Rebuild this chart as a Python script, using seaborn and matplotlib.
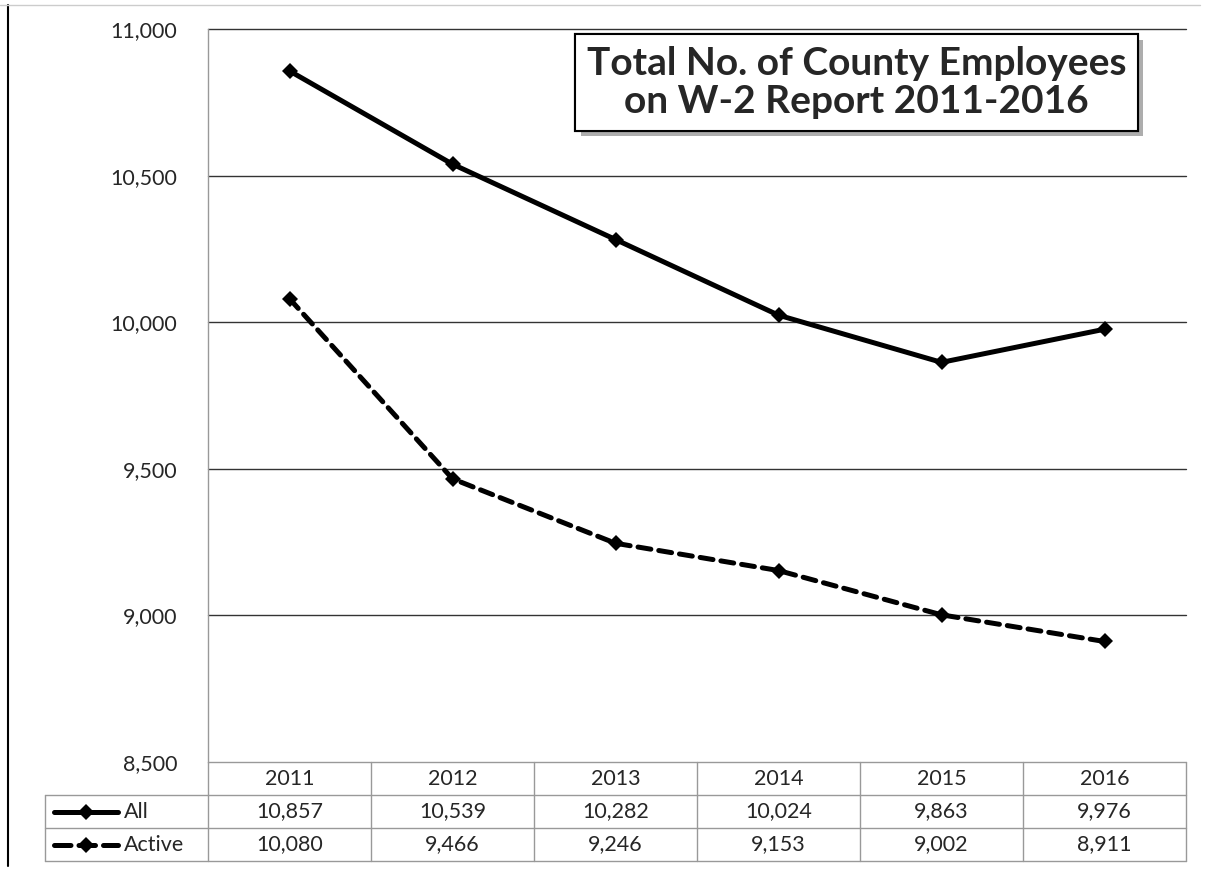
import pandas as pd
import numpy as np
import matplotlib
matplotlib.use('Agg')
import matplotlib.pyplot as plt
import matplotlib.patheffects as pe
from matplotlib.lines import Line2D
import seaborn as sns

# data
years = ['2011', '2012', '2013', '2014', '2015', '2016']
all_emp = [10857, 10539, 10282, 10024, 9863, 9976]
active_emp = [10080, 9466, 9246, 9153, 9002, 8911]
series_names = ['All', 'Active']
y_ticks = [8500, 9000, 9500, 10000, 10500, 11000]
title_txt = 'Total No. of County Employees\non W-2 Report 2011-2016'

df = pd.DataFrame({'year': years * 2,
                   'count': all_emp + active_emp,
                   'series': [series_names[0]] * len(years) + [series_names[1]] * len(years)})

sns.set_theme(style='white')
plt.rcParams['font.family'] = ['Lato', 'DejaVu Sans']

fig = plt.figure(figsize=(12.05, 8.72), dpi=100)
ax = fig.add_axes([208/1205, 1 - 762/872, 978/1205, 733/872])

lw = 3.6
sns.lineplot(data=df, x='year', y='count', style='series', color='black',
             markers={'All': 'D', 'Active': 'D'},
             dashes={'All': '', 'Active': (2.6, 1.6)},
             markersize=8, linewidth=lw, markeredgewidth=0,
             legend=False, ax=ax, sort=False)
for ln in ax.lines:
    ln.set_dash_capstyle('round')
    ln.set_solid_capstyle('round')

ax.set_xlim(-0.5, len(years) - 0.5)
ax.set_ylim(8500, 11000)
ax.set_yticks(y_ticks)
ax.set_yticklabels([f'{v:,}' for v in y_ticks], fontsize=15.5)
ax.tick_params(axis='y', length=0, pad=22)
ax.set_xticks([])
ax.set_xlabel('')
ax.set_ylabel('')
ax.grid(False)
for v in y_ticks[1:]:
    ax.axhline(v, color='#333333', lw=1, zorder=0, clip_on=False)
for s in ['top', 'right', 'bottom']:
    ax.spines[s].set_visible(False)
ax.spines['left'].set_color('#999999')
ax.spines['left'].set_linewidth(1)

# data table below the axes
rh = 33 / 733
x_left = -163 / 978
fs_tab = 15.5
grid_kw = dict(color='#999999', lw=1, transform=ax.transAxes, clip_on=False)
ax.plot([0, 1], [0, 0], **grid_kw)
ax.plot([x_left, 1], [-rh, -rh], **grid_kw)
ax.plot([x_left, 1], [-2 * rh, -2 * rh], **grid_kw)
ax.plot([x_left, 1], [-3 * rh, -3 * rh], **grid_kw)
ax.plot([x_left, x_left], [-rh, -3 * rh], **grid_kw)
for i in range(len(years) + 1):
    xf = i / len(years)
    ax.plot([xf, xf], [0, -3 * rh], **grid_kw)

tx = ax.get_xaxis_transform()
for i, yr in enumerate(years):
    ax.text(i, -0.5 * rh, yr, transform=tx, ha='center', va='center', fontsize=fs_tab)
    ax.text(i, -1.5 * rh, f'{all_emp[i]:,}', transform=tx, ha='center', va='center', fontsize=fs_tab)
    ax.text(i, -2.5 * rh, f'{active_emp[i]:,}', transform=tx, ha='center', va='center', fontsize=fs_tab)

# legend keys inside the row labels
for k, (name, dash) in enumerate(zip(series_names, ['-', (0, (3.3, 1.6))])):
    yk = -(1.5 + k) * rh
    key = Line2D([x_left + 0.009, x_left + 0.0745], [yk, yk], transform=ax.transAxes,
                 color='black', lw=lw, linestyle=dash, dash_capstyle='round',
                 solid_capstyle='round', clip_on=False)
    ax.add_line(key)
    ax.plot([x_left + 0.0418], [yk], marker='D', ms=8, color='black', mew=0,
            transform=ax.transAxes, clip_on=False)
    ax.text(x_left + 0.081, yk, name, transform=ax.transAxes, ha='left', va='center', fontsize=fs_tab)

# title box
t = ax.text(0.663, 0.927, title_txt, transform=ax.transAxes, ha='center', va='center',
            fontsize=28, fontweight='bold', linespacing=1.1,
            bbox=dict(boxstyle='square,pad=0.3', fc='white', ec='black', lw=1.5))
t.get_bbox_patch().set_path_effects([
    pe.withSimplePatchShadow(offset=(4, -4), shadow_rgbFace='#777777', alpha=0.6),
    pe.Normal()])

# slide frame lines
fig.add_artist(Line2D([8/1205, 8/1205], [1 - 5/872, 1 - 866/872], color='black', lw=1.5))
fig.add_artist(Line2D([0, 1200/1205], [1 - 5/872, 1 - 5/872], color='#cccccc', lw=1))

plt.savefig('out.png', dpi=100)
